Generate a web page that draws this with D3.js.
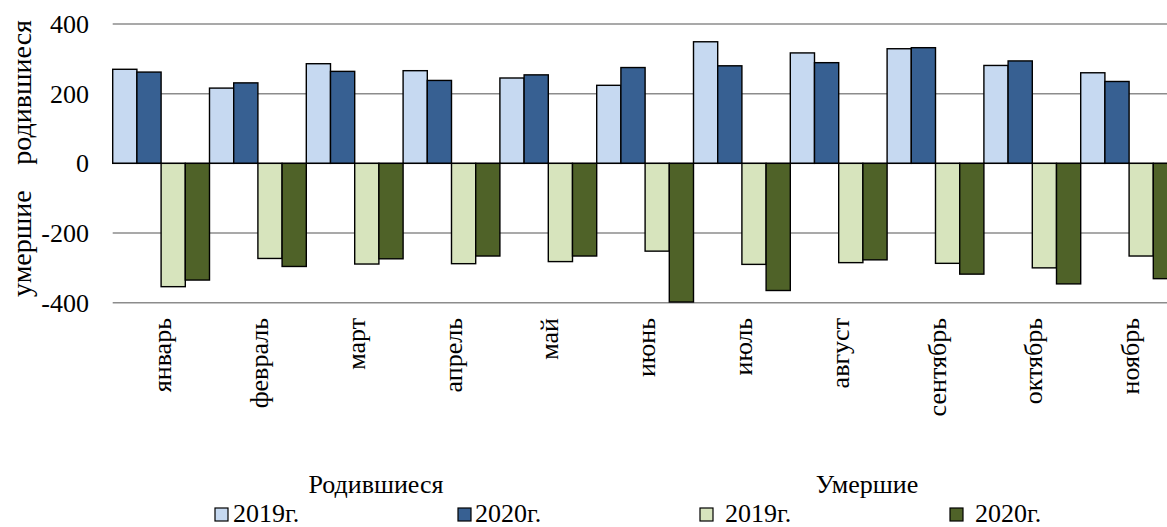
<!DOCTYPE html>
<html>
<head>
  <meta charset="utf-8">
  <title>Родившиеся и умершие</title>
  <script src="https://d3js.org/d3.v7.min.js"></script>
  <style>
    body { margin: 0; background: #fff; }
  </style>
</head>
<body>
  <svg id="chart"></svg>

  <script>
    // месяцы
    const months = ['январь', 'февраль', 'март', 'апрель', 'май', 'июнь',
                    'июль', 'август', 'сентябрь', 'октябрь', 'ноябрь'];

    // родившиеся
    const births2019 = [270, 216, 286, 266, 245, 224, 349, 317, 329, 281, 260];
    const births2020 = [262, 231, 264, 238, 254, 275, 280, 289, 332, 294, 235];

    // умершие (отложены вниз)
    const deaths2019 = [-354, -273, -289, -288, -282, -252, -290, -285, -287, -300, -266];
    const deaths2020 = [-335, -296, -274, -266, -266, -398, -365, -277, -318, -346, -331];

    const yTicks = [-400, -200, 0, 200, 400];

    const series = [
      { key: 'b2019', values: births2019, color: '#c6d9f1' },
      { key: 'b2020', values: births2020, color: '#376092' },
      { key: 'd2019', values: deaths2019, color: '#d7e4bd' },
      { key: 'd2020', values: deaths2020, color: '#4f6228' }
    ];

    const width = 1167, height = 527;
    const plotLeft = 112.7, bandStep = 96.8;
    const plotTop = 24, plotBottom = 302.7;
    const serif = '"Liberation Serif", "DejaVu Serif", "Times New Roman", serif';

    const svg = d3.select('#chart')
                  .attr('width', width)
                  .attr('height', height)
                  .attr('font-family', serif)
                  .attr('font-size', 26);

    const x = d3.scaleBand()
                .domain(months)
                .range([plotLeft, plotLeft + bandStep * months.length])
                .padding(0);

    const xInner = d3.scaleBand()
                     .domain(series.map(s => s.key))
                     .range([0, x.bandwidth()])
                     .padding(0);

    const y = d3.scaleLinear()
                .domain([-400, 400])
                .range([plotBottom, plotTop]);

    // сетка
    svg.append('g')
       .selectAll('line')
       .data(yTicks.filter(t => t !== 0))
       .join('line')
       .attr('x1', plotLeft)
       .attr('x2', width)
       .attr('y1', d => y(d))
       .attr('y2', d => y(d))
       .attr('stroke', '#8c8c8c')
       .attr('stroke-width', 1.5);

    // подписи оси Y
    svg.append('g')
       .selectAll('text')
       .data(yTicks)
       .join('text')
       .attr('x', 89)
       .attr('y', d => y(d))
       .attr('dy', '0.35em')
       .attr('text-anchor', 'end')
       .attr('font-family', serif)
       .text(d => d);

    // столбцы
    const groups = svg.append('g')
                      .selectAll('g')
                      .data(series)
                      .join('g')
                      .attr('fill', s => s.color);

    groups.selectAll('rect')
          .data(s => s.values.map((v, i) => ({ key: s.key, month: months[i], v })))
          .join('rect')
          .attr('x', d => x(d.month) + xInner(d.key))
          .attr('y', d => y(Math.max(0, d.v)))
          .attr('width', xInner.bandwidth())
          .attr('height', d => Math.abs(y(d.v) - y(0)))
          .attr('stroke', '#000')
          .attr('stroke-width', 1.4);

    // ось 0
    svg.append('line')
       .attr('x1', plotLeft)
       .attr('x2', width)
       .attr('y1', y(0))
       .attr('y2', y(0))
       .attr('stroke', '#000')
       .attr('stroke-width', 1.4);

    // подписи месяцев
    svg.append('g')
       .selectAll('text')
       .data(months)
       .join('text')
       .attr('transform', d => `translate(${x(d) + x.bandwidth() / 2 + 10},318) rotate(-90)`)
       .attr('text-anchor', 'end')
       .attr('font-family', serif)
       .text(d => d);

    // заголовок оси Y
    svg.append('text')
       .attr('transform', 'translate(31,20) rotate(-90)')
       .attr('text-anchor', 'end')
       .attr('font-family', serif)
       .attr('font-size', 28)
       .text('родившиеся');

    svg.append('text')
       .attr('transform', 'translate(31,297) rotate(-90)')
       .attr('text-anchor', 'start')
       .attr('font-family', serif)
       .attr('font-size', 28)
       .text('умершие');

    // легенда
    const legendTitles = [
      { label: 'Родившиеся', cx: 376 },
      { label: 'Умершие', cx: 867 }
    ];

    svg.append('g')
       .selectAll('text')
       .data(legendTitles)
       .join('text')
       .attr('x', d => d.cx)
       .attr('y', 493)
       .attr('text-anchor', 'middle')
       .attr('font-family', serif)
       .text(d => d.label);

    const legendItems = [
      { label: '2019г.', color: series[0].color, boxX: 215, textX: 233 },
      { label: '2020г.', color: series[1].color, boxX: 458, textX: 475 },
      { label: '2019г.', color: series[2].color, boxX: 700, textX: 725 },
      { label: '2020г.', color: series[3].color, boxX: 950, textX: 975 }
    ];

    const legend = svg.append('g')
                      .selectAll('g')
                      .data(legendItems)
                      .join('g');

    legend.append('rect')
          .attr('x', d => d.boxX)
          .attr('y', 508)
          .attr('width', 13)
          .attr('height', 13)
          .attr('fill', d => d.color)
          .attr('stroke', '#000')
          .attr('stroke-width', 1.2);

    legend.append('text')
          .attr('x', d => d.textX)
          .attr('y', 522)
          .attr('font-family', serif)
          .text(d => d.label);
  </script>
</body>
</html>
